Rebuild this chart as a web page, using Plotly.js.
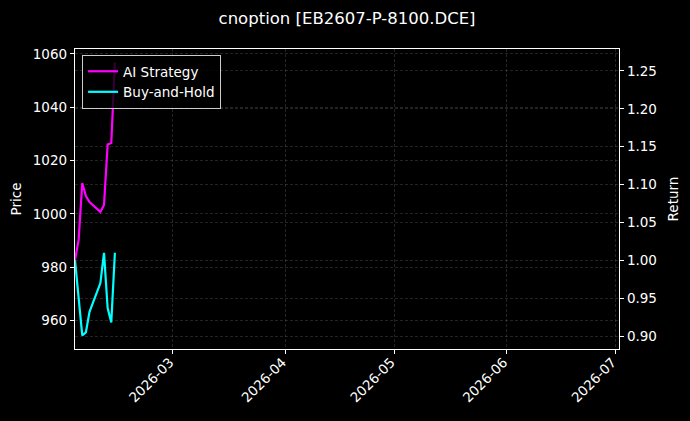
<!DOCTYPE html>
<html>
<head>
<meta charset="utf-8">
<script src="https://cdn.plot.ly/plotly-3.0.1.min.js"></script>
<style>
  html, body { margin: 0; padding: 0; background: #000; }
  #myDiv { width: 690px; height: 421px; }
</style>
</head>
<body>
<div id="myDiv"></div>
<script>
// trading days before the holiday break
const dates = ['2026-02-02','2026-02-03','2026-02-04','2026-02-05','2026-02-06',
               '2026-02-09','2026-02-10','2026-02-11','2026-02-12','2026-02-13'];

// cumulative return
const aiReturn  = [1.000, 1.027, 1.102, 1.085, 1.077, 1.064, 1.073, 1.153, 1.155, 1.261];
const bahReturn = [1.000, 0.952, 0.901, 0.905, 0.932, 0.970, 1.010, 0.937, 0.918, 1.010];

const priceTicks  = [960, 980, 1000, 1020, 1040, 1060];
const returnTicks = [0.90, 0.95, 1.00, 1.05, 1.10, 1.15, 1.20, 1.25];

var font = {family: 'DejaVu Sans, sans-serif', color: '#ffffff', size: 13.5};
var grid = 'rgba(140,140,140,0.5)';

var trace1 = {
  x: dates,
  y: aiReturn,
  name: 'AI Strategy',
  type: 'scatter',
  mode: 'lines',
  yaxis: 'y2',
  line: {color: '#ff00ff', width: 2.2}
};

var trace2 = {
  x: dates,
  y: bahReturn,
  name: 'Buy-and-Hold',
  type: 'scatter',
  mode: 'lines',
  yaxis: 'y2',
  line: {color: '#00ffff', width: 2.2}
};

// empty trace so the price axis on the left gets drawn
var priceAxis = {x: [], y: [], type: 'scatter', mode: 'lines', yaxis: 'y', showlegend: false, hoverinfo: 'skip'};

var data = [priceAxis, trace1, trace2];

var layout = {
  width: 690,
  height: 421,
  paper_bgcolor: '#000000',
  plot_bgcolor: '#000000',
  font: font,
  margin: {l: 75, r: 71, t: 49, b: 72},
  title: {
    text: 'cnoption [EB2607-P-8100.DCE]',
    font: {family: 'DejaVu Sans, sans-serif', size: 16.5, color: '#ffffff'},
    x: 0.503, xanchor: 'center',
    y: 0.957, yanchor: 'middle'
  },
  xaxis: {
    type: 'date',
    range: ['2026-02-02', '2026-07-02'],
    tick0: '2026-03-01',
    dtick: 'M1',
    tickformat: '%Y-%m',
    tickangle: -45,
    ticklabelstandoff: -5,
    ticklabelshift: -3,
    ticks: 'outside', ticklen: 4, tickcolor: '#ffffff',
    showline: true, linecolor: '#ffffff', linewidth: 1.2, mirror: true,
    showgrid: true, gridcolor: grid, griddash: '3px,2px', gridwidth: 0.5,
    zeroline: false,
    tickfont: font
  },
  yaxis: {
    title: {text: 'Price', font: font, standoff: 8},
    range: [949.4, 1061.8],
    tickvals: priceTicks,
    ticks: 'outside', ticklen: 4, tickcolor: '#ffffff',
    showline: true, linecolor: '#ffffff', linewidth: 1.2, mirror: true,
    showgrid: true, gridcolor: grid, griddash: '3px,2px', gridwidth: 0.5,
    zeroline: false,
    tickfont: font
  },
  yaxis2: {
    title: {text: 'Return', font: font, standoff: 12},
    overlaying: 'y',
    side: 'right',
    range: [0.883, 1.279],
    tickvals: returnTicks,
    tickformat: '.2f',
    ticks: 'outside', ticklen: 4, tickcolor: '#ffffff',
    showline: true, linecolor: '#ffffff', linewidth: 1.2,
    showgrid: true, gridcolor: grid, griddash: '3px,2px', gridwidth: 0.5,
    zeroline: false,
    tickfont: font
  },
  legend: {
    x: 0.013, y: 0.98,
    xanchor: 'left', yanchor: 'top',
    bgcolor: 'rgba(0,0,0,0.8)',
    bordercolor: '#cccccc',
    borderwidth: 1,
    font: font,
    tracegroupgap: 0
  },
  showlegend: true
};

Plotly.newPlot('myDiv', data, layout, {displayModeBar: false, staticPlot: true});
</script>
</body>
</html>
